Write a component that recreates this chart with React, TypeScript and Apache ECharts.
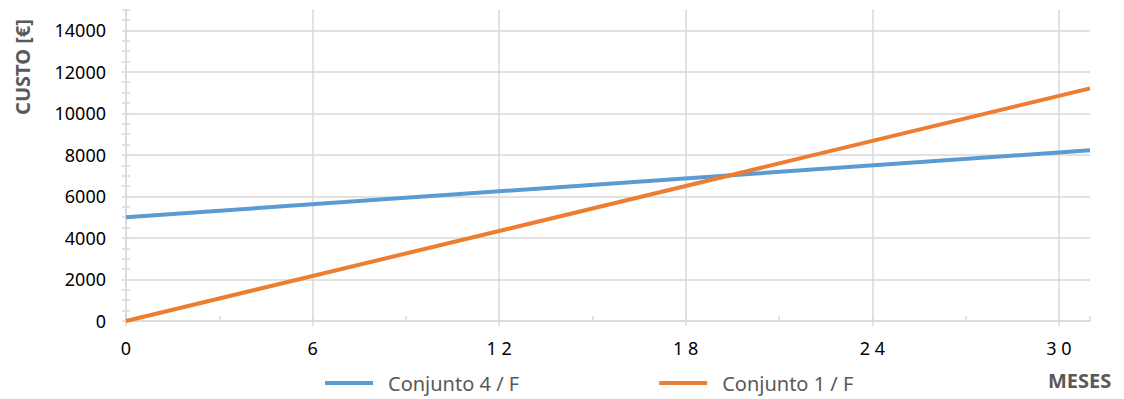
import React, { useEffect, useRef } from "react";
import * as echarts from "echarts";

const months = [0, 31];
const conjunto4F = [5000, 8220];
const conjunto1F = [0, 11200];
const seriesNames = ["Conjunto 4 / F", "Conjunto 1 / F"];
const colors = ["#5B9BD5", "#ED7D31"];
const FONT = "'Noto Sans', sans-serif";
const GRID = "#D9D9D9";

export default function App() {
  const ref = useRef<HTMLDivElement>(null);
  useEffect(() => {
    if (!ref.current) return;
    const chart = echarts.init(ref.current, undefined, { renderer: "svg" });
    const yBase = { type: "value", min: 0, max: 15000, position: "left" };
    const xBase = { type: "value", min: 0, max: 31, position: "bottom" };
    chart.setOption({
      animation: false,
      grid: { left: 118, right: 34, top: 1.5, bottom: 78 },
      legend: {
        top: 360,
        left: 312,
        icon: "rect",
        itemWidth: 48,
        itemHeight: 4,
        itemGap: 140,
        textStyle: { color: "#595959", fontSize: 20, fontFamily: FONT, padding: [0, 0, 0, 10] },
        data: seriesNames,
      },
      xAxis: [
        {
          ...xBase,
          interval: 6,
          axisLine: { show: true, lineStyle: { color: GRID, width: 1.5 } },
          axisTick: { show: true, inside: false, length: 5, lineStyle: { color: GRID, width: 1.5 } },
          splitLine: { show: true, showMaxLine: false, lineStyle: { color: GRID, width: 1.5 } },
          axisLabel: {
            margin: 18,
            color: "#000",
            fontSize: 18,
            fontFamily: FONT,
            showMaxLabel: false,
            formatter: (v: number) => String(v).split("").join(" "),
          },
        },
        {
          ...xBase,
          interval: 3,
          axisLine: { show: false },
          axisTick: { show: true, inside: true, length: 5, lineStyle: { color: GRID, width: 1.5 } },
          splitLine: { show: false },
          axisLabel: { show: false },
        },
      ],
      yAxis: [
        {
          ...yBase,
          interval: 2000,
          axisLine: { show: true, lineStyle: { color: GRID, width: 1.5 } },
          axisTick: { show: false },
          splitLine: { show: true, showMaxLine: false, lineStyle: { color: GRID, width: 1.5 } },
          axisLabel: {
            margin: 20,
            color: "#000",
            fontSize: 18,
            fontFamily: FONT,
            showMaxLabel: false,
            formatter: (v: number) => String(v),
          },
        },
        {
          ...yBase,
          interval: 500,
          axisLine: { show: false },
          axisTick: { show: true, inside: false, length: 4, lineStyle: { color: GRID, width: 1.5 } },
          splitLine: { show: false },
          axisLabel: { show: false },
        },
        {
          ...yBase,
          interval: 500,
          axisLine: { show: false },
          axisTick: { show: true, inside: true, length: 4, lineStyle: { color: GRID, width: 1.5 } },
          splitLine: { show: false },
          axisLabel: { show: false },
        },
      ],
      graphic: [
        {
          type: "text",
          x: 14,
          y: 59,
          rotation: Math.PI / 2,
          style: {
            text: "CUSTO [€]",
            fill: "#595959",
            font: `bold 20px ${FONT}`,
            align: "center",
            verticalAlign: "middle",
          },
        },
        {
          type: "text",
          x: 1040,
          y: 372,
          style: {
            text: "MESES",
            fill: "#595959",
            font: `bold 20px ${FONT}`,
            align: "left",
            verticalAlign: "middle",
          },
        },
      ],
      series: [
        {
          name: seriesNames[0],
          type: "line",
          data: months.map((m, i) => [m, conjunto4F[i]]),
          symbol: "none",
          lineStyle: { width: 4, color: colors[0] },
          itemStyle: { color: colors[0] },
        },
        {
          name: seriesNames[1],
          type: "line",
          data: months.map((m, i) => [m, conjunto1F[i]]),
          symbol: "none",
          lineStyle: { width: 4, color: colors[1] },
          itemStyle: { color: colors[1] },
        },
      ],
    });
    return () => chart.dispose();
  }, []);
  return <div ref={ref} style={{ width: 1116, height: 391 }} />;
}
